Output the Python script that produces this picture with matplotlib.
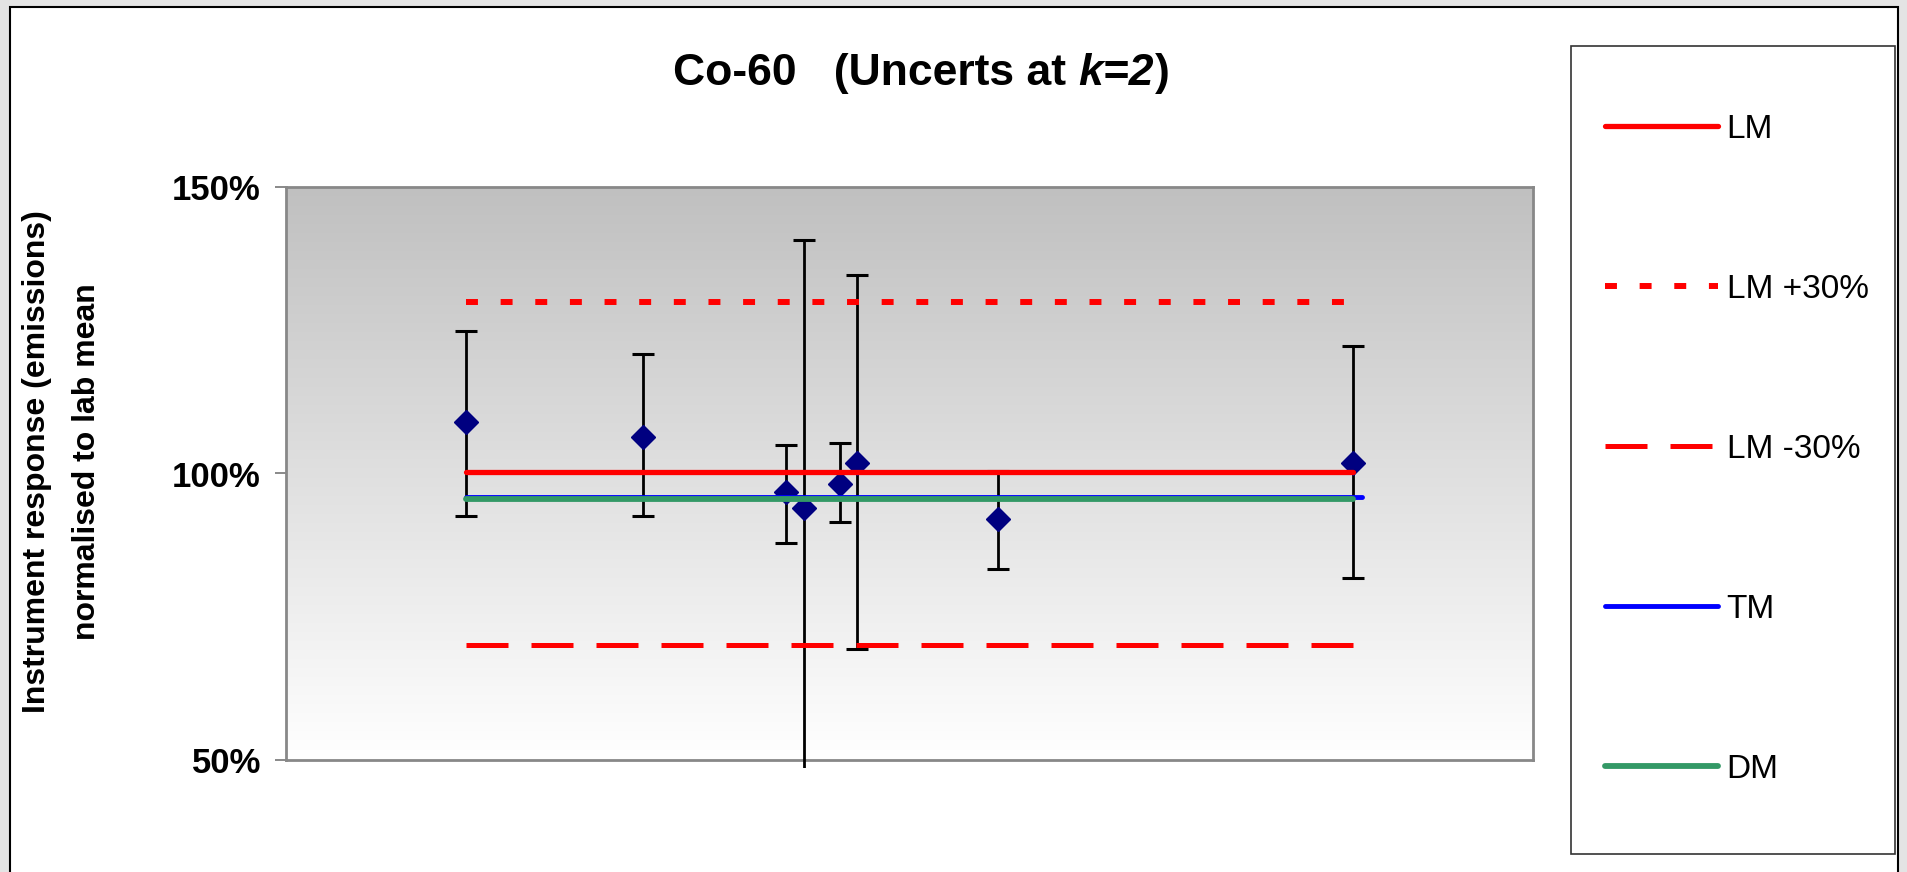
import numpy as np
import matplotlib
matplotlib.use('Agg')
import matplotlib.pyplot as plt
from matplotlib.colors import LinearSegmentedColormap
from matplotlib.patches import Rectangle

plt.rcParams['font.family'] = ['Liberation Sans', 'DejaVu Sans']

# ---------------- data ----------------
x_pos = [1.44, 2.86, 4.01, 4.15, 4.44, 4.58, 5.71, 8.56]
response = [108.95, 106.4, 96.7, 94.05, 98.2, 101.8, 92.0, 101.8]
err_upper = [124.85, 120.8, 105.0, 140.8, 105.3, 134.7, 100.5, 122.3]
err_lower = [92.5, 92.5, 87.9, 45.0, 91.5, 69.4, 83.3, 81.8]
lm_value = 100.2
lm_plus_value = 130.0
lm_minus_value = 70.0
tm_value = 95.85
dm_value = 95.6
tm_x_end = 8.63
y_ticks = [50, 100, 150]
y_tick_labels = ['50%', '100%', '150%']
legend_labels = ['LM', 'LM +30%', 'LM -30%', 'TM', 'DM']
title_parts = ['Co-60   (Uncerts at', 'k=2', ')']
ylabel_text = 'Instrument response (emissions)\nnormalised to lab mean'

# ---------------- figure ----------------
W, H = 1907, 872
fig = plt.figure(figsize=(W / 100, H / 100), dpi=100)
fig.patch.set_facecolor('#e4e4e4')


def fx(px):
    return px / W


def fy(py):
    return 1 - py / H


# white chart area with black border
fig.add_artist(Rectangle((fx(10), fy(890)), fx(1898) - fx(10), fy(7) - fy(890),
                         transform=fig.transFigure, facecolor='white',
                         edgecolor='black', lw=1.5, zorder=-5))

ax = fig.add_axes([fx(286), fy(760), fx(1533) - fx(286), fy(187) - fy(760)])
ax.set_facecolor('none')

# gradient plot background
cmap = LinearSegmentedColormap.from_list('bg', ['#c0c0c0', '#ffffff'])
ax.imshow(np.linspace(0, 1, 256).reshape(-1, 1), cmap=cmap, extent=[0, 1, 0, 1],
          transform=ax.transAxes, aspect='auto', origin='upper', zorder=0)

# error bars + diamonds
resp = np.array(response)
yerr = [resp - np.array(err_lower), np.array(err_upper) - resp]
eb = ax.errorbar(x_pos, response, yerr=yerr, fmt='D', color='#000080', ms=12,
                 mec='#000080', ecolor='black', elinewidth=2.0, capsize=8,
                 capthick=2.2, zorder=3)
# error bars may run a little past the plot bottom (as in the original chart)
clip_rect = Rectangle((fx(270), fy(768)), fx(1545) - fx(270), fy(180) - fy(768),
                      transform=fig.transFigure, facecolor='none', edgecolor='none')
for c in list(eb[1]) + list(eb[2]):
    c.set_clip_path(clip_rect)

x_span = [x_pos[0], x_pos[-1]]
l_tm, = ax.plot([x_pos[0], tm_x_end], [tm_value] * 2, color='#0000ff', lw=3.5,
                solid_capstyle='round', zorder=4)
l_dm, = ax.plot(x_span, [dm_value] * 2, color='#339966', lw=4.2,
                solid_capstyle='round', zorder=5)
l_lm, = ax.plot(x_span, [lm_value] * 2, color='#ff0000', lw=3.8,
                solid_capstyle='round', zorder=5)
l_lmp, = ax.plot(x_span, [lm_plus_value] * 2, color='#ff0000', lw=4.3,
                 dashes=(2, 3.8), zorder=5)
l_lmm, = ax.plot(x_span, [lm_minus_value] * 2, color='#ff0000', lw=3.6,
                 dashes=(8.4, 4.6), zorder=5)

ax.set_xlim(0, 10)
ax.set_ylim(50, 150)
ax.set_xticks([])
ax.set_yticks(y_ticks, y_tick_labels, fontsize=25, fontweight='bold')
ax.tick_params(axis='y', length=8, width=1.3, color='#808080', pad=10,
               direction='out')
for s in ax.spines.values():
    s.set_color('#888888')
    s.set_linewidth(2)

# y label
fig.text(fx(62), fy(462), ylabel_text, rotation=90, ha='center', va='center',
         fontsize=23, fontweight='bold', multialignment='center',
         linespacing=1.9)

# title (mixed bold / bold italic)
title_y = fy(85)
tfs = 32
t1 = fig.text(fx(673), title_y, title_parts[0], fontsize=tfs, fontweight='bold',
              ha='left', va='baseline')
fig.canvas.draw()
r = fig.canvas.get_renderer()
bb1 = t1.get_window_extent(r)
space = 0.278 * tfs * 100 / 72
t2 = fig.text((bb1.x1 + space) / W, title_y, title_parts[1], fontsize=tfs,
              fontweight='bold', style='italic', ha='left', va='baseline')
bb2 = t2.get_window_extent(r)
t3 = fig.text((bb2.x1 + 1) / W, title_y, title_parts[2], fontsize=tfs,
              fontweight='bold', ha='left', va='baseline')

# legend
handles = [l_lm, l_lmp, l_lmm, l_tm, l_dm]
fig.legend(handles, legend_labels, loc='upper left',
           bbox_to_anchor=(fx(1605), fy(114)), frameon=False, fontsize=24,
           labelspacing=3.87, handlelength=3.4, handletextpad=0.25,
           borderpad=0, borderaxespad=0)
fig.add_artist(Rectangle((fx(1571), fy(854)), fx(1895) - fx(1571),
                         fy(46) - fy(854), transform=fig.transFigure,
                         fill=False, edgecolor='#333333', lw=1.2))

fig.savefig('out.png', dpi=100, facecolor=fig.get_facecolor())
